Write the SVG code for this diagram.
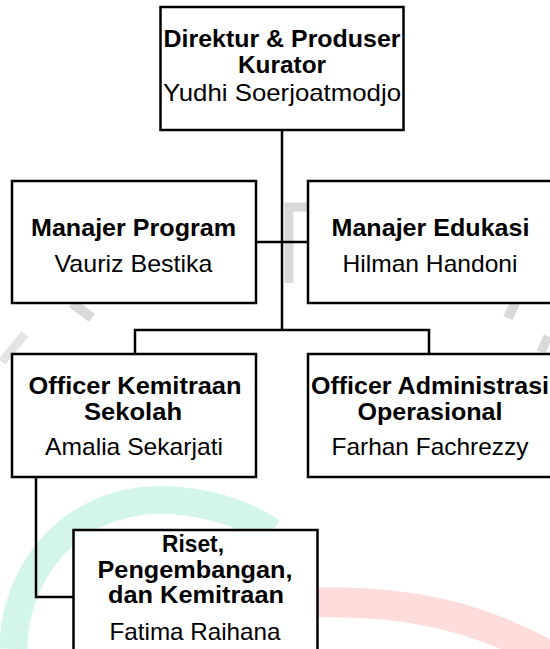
<svg xmlns="http://www.w3.org/2000/svg" width="550" height="649" viewBox="0 0 550 649">
<style>
.box{fill:#fff;stroke:#000;stroke-width:2.5}
.b{font-family:"Liberation Sans",Arial,sans-serif;font-weight:bold;font-size:24px;fill:#000;text-anchor:middle}
.r{font-family:"Liberation Sans",Arial,sans-serif;font-size:24px;fill:#000;text-anchor:middle}
.con{fill:none;stroke:#000;stroke-width:2.5}
.wm{fill:none;stroke-linecap:butt}
</style>
<rect width="550" height="649" fill="#fff"/>
<g id="watermark">
<path class="wm" d="M13,649 C16,560 80,500 160,500 C205,500 245,514 272,532" stroke="#d4f6ea" stroke-width="28"/>
<path class="wm" d="M300,603 C400,598 480,615 560,662" stroke="#fddcdc" stroke-width="30"/>
<path class="wm" d="M307,207 L289,207 L289,283" stroke="#d9d9d9" stroke-width="9"/>
<path class="wm" d="M72,303 L92,318" stroke="#d9d9d9" stroke-width="10"/>
<path class="wm" d="M2,362 L25,334" stroke="#e4e4e4" stroke-width="9"/>
<path class="wm" d="M522,288 L508,318" stroke="#d9d9d9" stroke-width="10"/>
<path class="wm" d="M541,352 L548,336" stroke="#d9d9d9" stroke-width="9"/>
</g>
<g id="connectors">
<path class="con" d="M282,130 V330"/>
<path class="con" d="M256,242 H308" stroke-width="2"/>
<path class="con" d="M135,354 V330 H429 V354"/>
<path class="con" d="M36,477 V597 H74"/>
</g>
<g id="direktur">
<rect class="box" x="160.5" y="7" width="243" height="123"/>
<text class="b" x="282" y="47" textLength="237" lengthAdjust="spacingAndGlyphs">Direktur &amp; Produser</text>
<text class="b" x="282" y="73" textLength="88" lengthAdjust="spacingAndGlyphs">Kurator</text>
<text class="r" x="282" y="101" textLength="238" lengthAdjust="spacingAndGlyphs">Yudhi Soerjoatmodjo</text>
</g>
<g id="manajer-program">
<rect class="box" x="12" y="181" width="244" height="122"/>
<text class="b" x="133.5" y="236" textLength="205" lengthAdjust="spacingAndGlyphs">Manajer Program</text>
<text class="r" x="133.5" y="272" textLength="158" lengthAdjust="spacingAndGlyphs">Vauriz Bestika</text>
</g>
<g id="manajer-edukasi">
<rect class="box" x="308" y="181" width="244" height="122"/>
<text class="b" x="430.5" y="236" textLength="198" lengthAdjust="spacingAndGlyphs">Manajer Edukasi</text>
<text class="r" x="430" y="272" textLength="175" lengthAdjust="spacingAndGlyphs">Hilman Handoni</text>
</g>
<g id="officer-kemitraan">
<rect class="box" x="12" y="354" width="244" height="123"/>
<text class="b" x="135" y="394" textLength="213" lengthAdjust="spacingAndGlyphs">Officer Kemitraan</text>
<text class="b" x="133" y="420" textLength="98" lengthAdjust="spacingAndGlyphs">Sekolah</text>
<text class="r" x="134" y="455" textLength="178" lengthAdjust="spacingAndGlyphs">Amalia Sekarjati</text>
</g>
<g id="officer-administrasi">
<rect class="box" x="308" y="354" width="244" height="123"/>
<text class="b" x="430" y="394" textLength="238" lengthAdjust="spacingAndGlyphs">Officer Administrasi</text>
<text class="b" x="430" y="420" textLength="145" lengthAdjust="spacingAndGlyphs">Operasional</text>
<text class="r" x="430" y="455" textLength="197" lengthAdjust="spacingAndGlyphs">Farhan Fachrezzy</text>
</g>
<g id="riset">
<rect class="box" x="73.5" y="530" width="244" height="123"/>
<text class="b" x="193" y="552" textLength="62" lengthAdjust="spacingAndGlyphs">Riset,</text>
<text class="b" x="195" y="578" textLength="195" lengthAdjust="spacingAndGlyphs">Pengembangan,</text>
<text class="b" x="196" y="603" textLength="176" lengthAdjust="spacingAndGlyphs">dan Kemitraan</text>
<text class="r" x="195" y="640" textLength="171" lengthAdjust="spacingAndGlyphs">Fatima Raihana</text>
</g>
</svg>
